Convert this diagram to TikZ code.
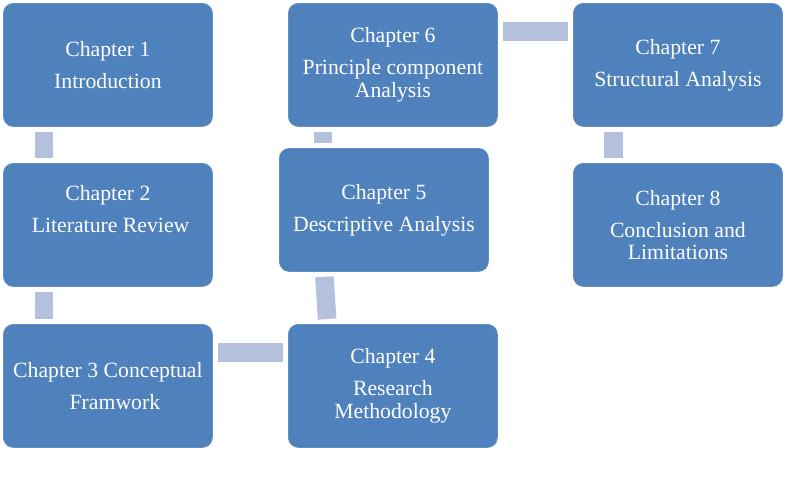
\documentclass[tikz,border=0pt]{standalone}
\usepackage{fontspec}
\setmainfont{Liberation Serif}
\definecolor{boxblue}{HTML}{4F81BD}
\definecolor{connblue}{HTML}{B4C1DC}
\begin{document}
\begin{tikzpicture}[x=0.75pt,y=-0.75pt,
  chap/.style={draw=boxblue!90!white, line width=0.6pt, fill=boxblue, rounded corners=7.5pt,
    minimum width=156.75pt, minimum height=92.25pt, inner sep=0pt, anchor=north west,
    text=white, align=center, font=\fontsize{16.3}{16.9}\selectfont},
  conn/.style={draw=connblue, line width=13.9pt, line cap=butt, shorten >=3.75pt, shorten <=3.75pt}]
\useasboundingbox[fill=white] (0,0) rectangle (791,476);
\node[chap] (b1) at (3,3) {Chapter 1\\[7.1pt]Introduction};
\node[chap] (b2) at (3,163) {Chapter 2\\[7.1pt]\hspace*{4pt}Literature Review\\[7.1pt]\mbox{}};
\node[chap] (b3) at (3,324) {Chapter 3 Conceptual\\[7.1pt]\hspace*{10.5pt}Framwork};
\node[chap] (b4) at (288,324) {Chapter 4\\[7.1pt]Research\\Methodology};
\node[chap] (b5) at (279,148) {Chapter 5\\[7.1pt]Descriptive Analysis};
\node[chap] (b6) at (288,3) {Chapter 6\\[7.1pt]Principle component\\Analysis};
\node[chap] (b7) at (573,3) {Chapter 7\\[7.1pt]Structural Analysis};
\node[chap] (b8) at (573,163) {Chapter 8\\[7.1pt]Conclusion and\\Limitations};
% connectors
\draw[conn] ([xshift=30.75pt]b1.south west) -- ([xshift=30.75pt]b2.north west);
\draw[conn] ([xshift=30.75pt]b2.south west) -- ([xshift=30.75pt]b3.north west);
\draw[conn] ([yshift=-21.4pt]b3.north east) -- ([yshift=-21.4pt]b4.north west);
\draw[conn] ([xshift=29.6pt]b4.north west) -- ([xshift=33.8pt]b5.south west);
\draw[conn] ([xshift=33pt]b5.north west) -- ([xshift=26.25pt]b6.south west);
\draw[conn] ([yshift=-21.4pt]b6.north east) -- ([yshift=-21.4pt]b7.north west);
\draw[conn] ([xshift=30.4pt]b7.south west) -- ([xshift=30.4pt]b8.north west);
\end{tikzpicture}
\end{document}
